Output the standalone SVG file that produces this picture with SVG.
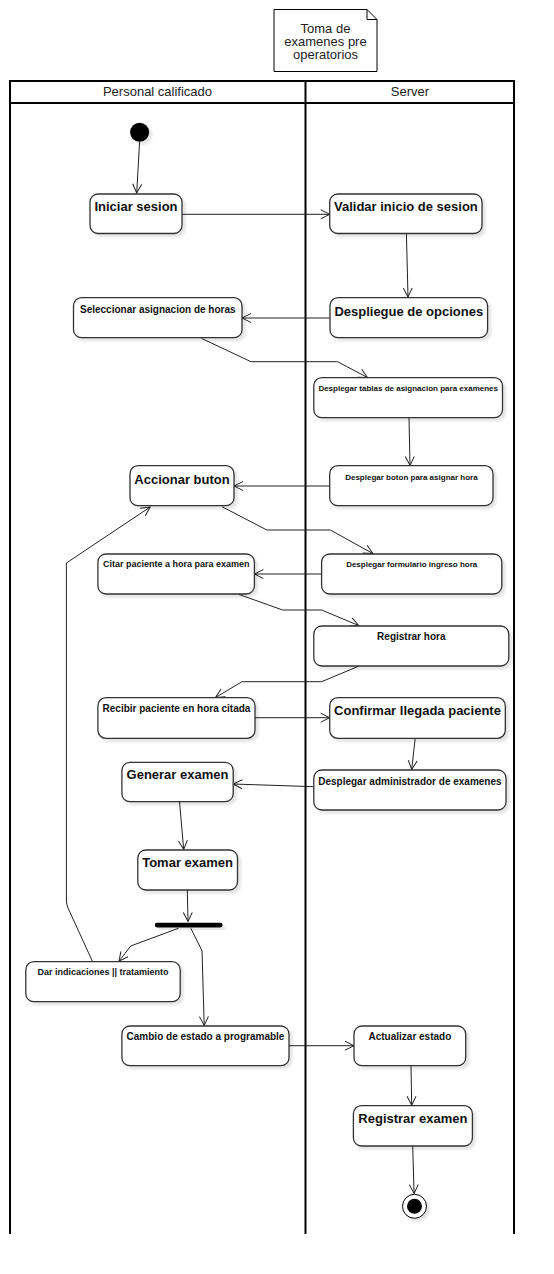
<svg xmlns="http://www.w3.org/2000/svg" width="554" height="1274" viewBox="0 0 554 1274">
<style>
.box{fill:#fff;stroke:#333;stroke-width:1.3;filter:url(#sh)}
.lab{font-family:"Liberation Sans",Arial,sans-serif;font-weight:bold;fill:#111;text-anchor:middle}
.f13{font-size:13px}.f10{font-size:10px}.f9{font-size:9px}.f8{font-size:8px}
.hdr{font-family:"Liberation Sans",Arial,sans-serif;font-size:13px;fill:#222;text-anchor:middle}
.lane{stroke:#000;stroke-width:2;fill:none}
.con path{fill:none;stroke:#222;stroke-width:1;marker-end:url(#arr)}
</style>
<defs>
<filter id="sh" x="-10%" y="-10%" width="130%" height="150%"><feDropShadow dx="3" dy="3" stdDeviation="1" flood-color="#000" flood-opacity="0.1"/></filter>
<marker id="arr" markerWidth="11" markerHeight="11" refX="10" refY="5.5" orient="auto" markerUnits="userSpaceOnUse"><path d="M1,1 L10,5.5 L1,10" fill="none" stroke="#222" stroke-width="1"/></marker>
</defs>
<rect width="554" height="1274" fill="#fff"/>
<g id="note">
<path d="M274,9.5 L367,9.5 L377,19.5 L377,71.5 L274,71.5 Z" fill="#fff" stroke="#000" stroke-width="1"/>
<path d="M367,9.5 L367,19.5 L377,19.5" fill="none" stroke="#000" stroke-width="1"/>
<text class="hdr" x="325.5" y="33">Toma de</text>
<text class="hdr" x="325.5" y="46">examenes pre</text>
<text class="hdr" x="325.5" y="59">operatorios</text>
</g>
<g id="swimlanes">
<path class="lane" d="M10,1234 L10,81 L514,81 L514,1234 M10,103 L514,103 M305.5,81 L305.5,1234"/>
<text class="hdr" x="157.5" y="96">Personal calificado</text>
<text class="hdr" x="410" y="96">Server</text>
</g>
<g class="con" id="connectors">
<path d="M139.6,141.7 L136.7,193"/>
<path d="M182,214.3 L329.7,214.3"/>
<path d="M406.4,233.3 L408,297"/>
<path d="M330,318 L242,318"/>
<path d="M201.4,338.3 L250.9,361.7 L337.5,361.7 L367.5,377.5"/>
<path d="M409,417.7 L410,465.5"/>
<path d="M329.7,486 L234,486"/>
<path d="M222,506.7 L266.8,530 L330.4,530 L372.8,553.5"/>
<path d="M321.6,574 L254.4,574"/>
<path d="M238.5,594.3 L282.7,610 L321.6,610 L358.7,625.5"/>
<path d="M92.6,961.7 L68,908 Q66.4,904 66.4,900 L66.4,563 L150.2,507"/>
<path d="M358.7,666.2 L321.6,681.7 L242,681.7 L215.5,697.5"/>
<path d="M255,717.7 L329.7,717.7"/>
<path d="M415.2,738.3 L411.7,769.5"/>
<path d="M313.8,786.7 L233.2,784"/>
<path d="M179.5,801.7 L183.7,849.5"/>
<path d="M187.3,890 L188,921.5"/>
<path d="M178.4,928.3 L130.7,946 L119,961.2"/>
<path d="M190.8,928.3 L202,950.7 L204.2,1025.5"/>
<path d="M289,1045.7 L354,1045.7"/>
<path d="M411,1065.7 L411.7,1105.2"/>
<path d="M412.7,1146 L414.1,1193.5"/>
</g>
<g id="start"><circle cx="139.6" cy="132.3" r="9.5" fill="#000" filter="url(#sh)"/></g>
<g id="iniciar"><rect class="box" x="90" y="194" width="92" height="39.5" rx="8"/><text class="lab f13" x="136" y="211">Iniciar sesion</text></g>
<g id="validar"><rect class="box" x="329.7" y="194" width="152.3" height="39.5" rx="8"/><text class="lab f13" x="405.9" y="211">Validar inicio de sesion</text></g>
<g id="despliegue"><rect class="box" x="330" y="297.7" width="157.6" height="40" rx="8"/><text class="lab f13" x="408.8" y="315.5">Despliegue de opciones</text></g>
<g id="seleccionar"><rect class="box" x="73.5" y="297.7" width="168.5" height="40" rx="8"/><text class="lab f10" x="157.8" y="312.5">Seleccionar asignacion de horas</text></g>
<g id="tablas"><rect class="box" x="313.8" y="377.7" width="188.7" height="40" rx="8"/><text class="lab f8" x="408.2" y="391">Desplegar tablas de asignacion para examenes</text></g>
<g id="accionar"><rect class="box" x="130" y="465.7" width="104" height="40" rx="8"/><text class="lab f13" x="182" y="483.5">Accionar buton</text></g>
<g id="boton"><rect class="box" x="329.7" y="465.7" width="163.3" height="40" rx="8"/><text class="lab f8" x="411.4" y="479.5">Desplegar boton para asignar hora</text></g>
<g id="citar"><rect class="box" x="97.9" y="554" width="156.5" height="40" rx="8"/><text class="lab f9" x="176.2" y="567">Citar paciente a hora para examen</text></g>
<g id="formulario"><rect class="box" x="321.6" y="554" width="180.2" height="40" rx="8"/><text class="lab f8" x="411.7" y="567">Desplegar formulario ingreso hora</text></g>
<g id="registrarhora"><rect class="box" x="313.8" y="626" width="195" height="40" rx="8"/><text class="lab f10" x="411.3" y="640">Registrar hora</text></g>
<g id="recibir"><rect class="box" x="97.9" y="697.7" width="157.1" height="40.6" rx="8"/><text class="lab f10" x="176.5" y="712">Recibir paciente en hora citada</text></g>
<g id="confirmar"><rect class="box" x="329.7" y="697.7" width="175.6" height="40.6" rx="8"/><text class="lab f13" x="417.5" y="715">Confirmar llegada paciente</text></g>
<g id="administrador"><rect class="box" x="313.8" y="770" width="192.2" height="40" rx="8"/><text class="lab f10" x="409.9" y="784.5">Desplegar administrador de examenes</text></g>
<g id="generar"><rect class="box" x="121.9" y="762.3" width="111.3" height="39.4" rx="8"/><text class="lab f13" x="177.5" y="779">Generar examen</text></g>
<g id="tomar"><rect class="box" x="137.8" y="850" width="99.7" height="40" rx="8"/><text class="lab f13" x="187.6" y="867">Tomar examen</text></g>
<g id="fork"><rect x="154.8" y="922.7" width="67.8" height="4.8" rx="2.4" fill="#000" filter="url(#sh)"/></g>
<g id="dar"><rect class="box" x="25.8" y="961.7" width="154.4" height="40" rx="8"/><text class="lab f9" x="103" y="975">Dar indicaciones || tratamiento</text></g>
<g id="cambio"><rect class="box" x="121.9" y="1026" width="167.1" height="39.7" rx="8"/><text class="lab f10" x="205.5" y="1040">Cambio de estado a programable</text></g>
<g id="actualizar"><rect class="box" x="354" y="1026" width="111.7" height="39.7" rx="8"/><text class="lab f10" x="409.9" y="1040">Actualizar estado</text></g>
<g id="registrarexamen"><rect class="box" x="353.4" y="1105.7" width="119" height="40.3" rx="8"/><text class="lab f13" x="412.9" y="1122.7">Registrar examen</text></g>
<g id="end"><circle cx="414.5" cy="1206.3" r="12" fill="#fff" stroke="#000" stroke-width="1" filter="url(#sh)"/><circle cx="414.5" cy="1206.3" r="7.5" fill="#000"/></g>
</svg>
